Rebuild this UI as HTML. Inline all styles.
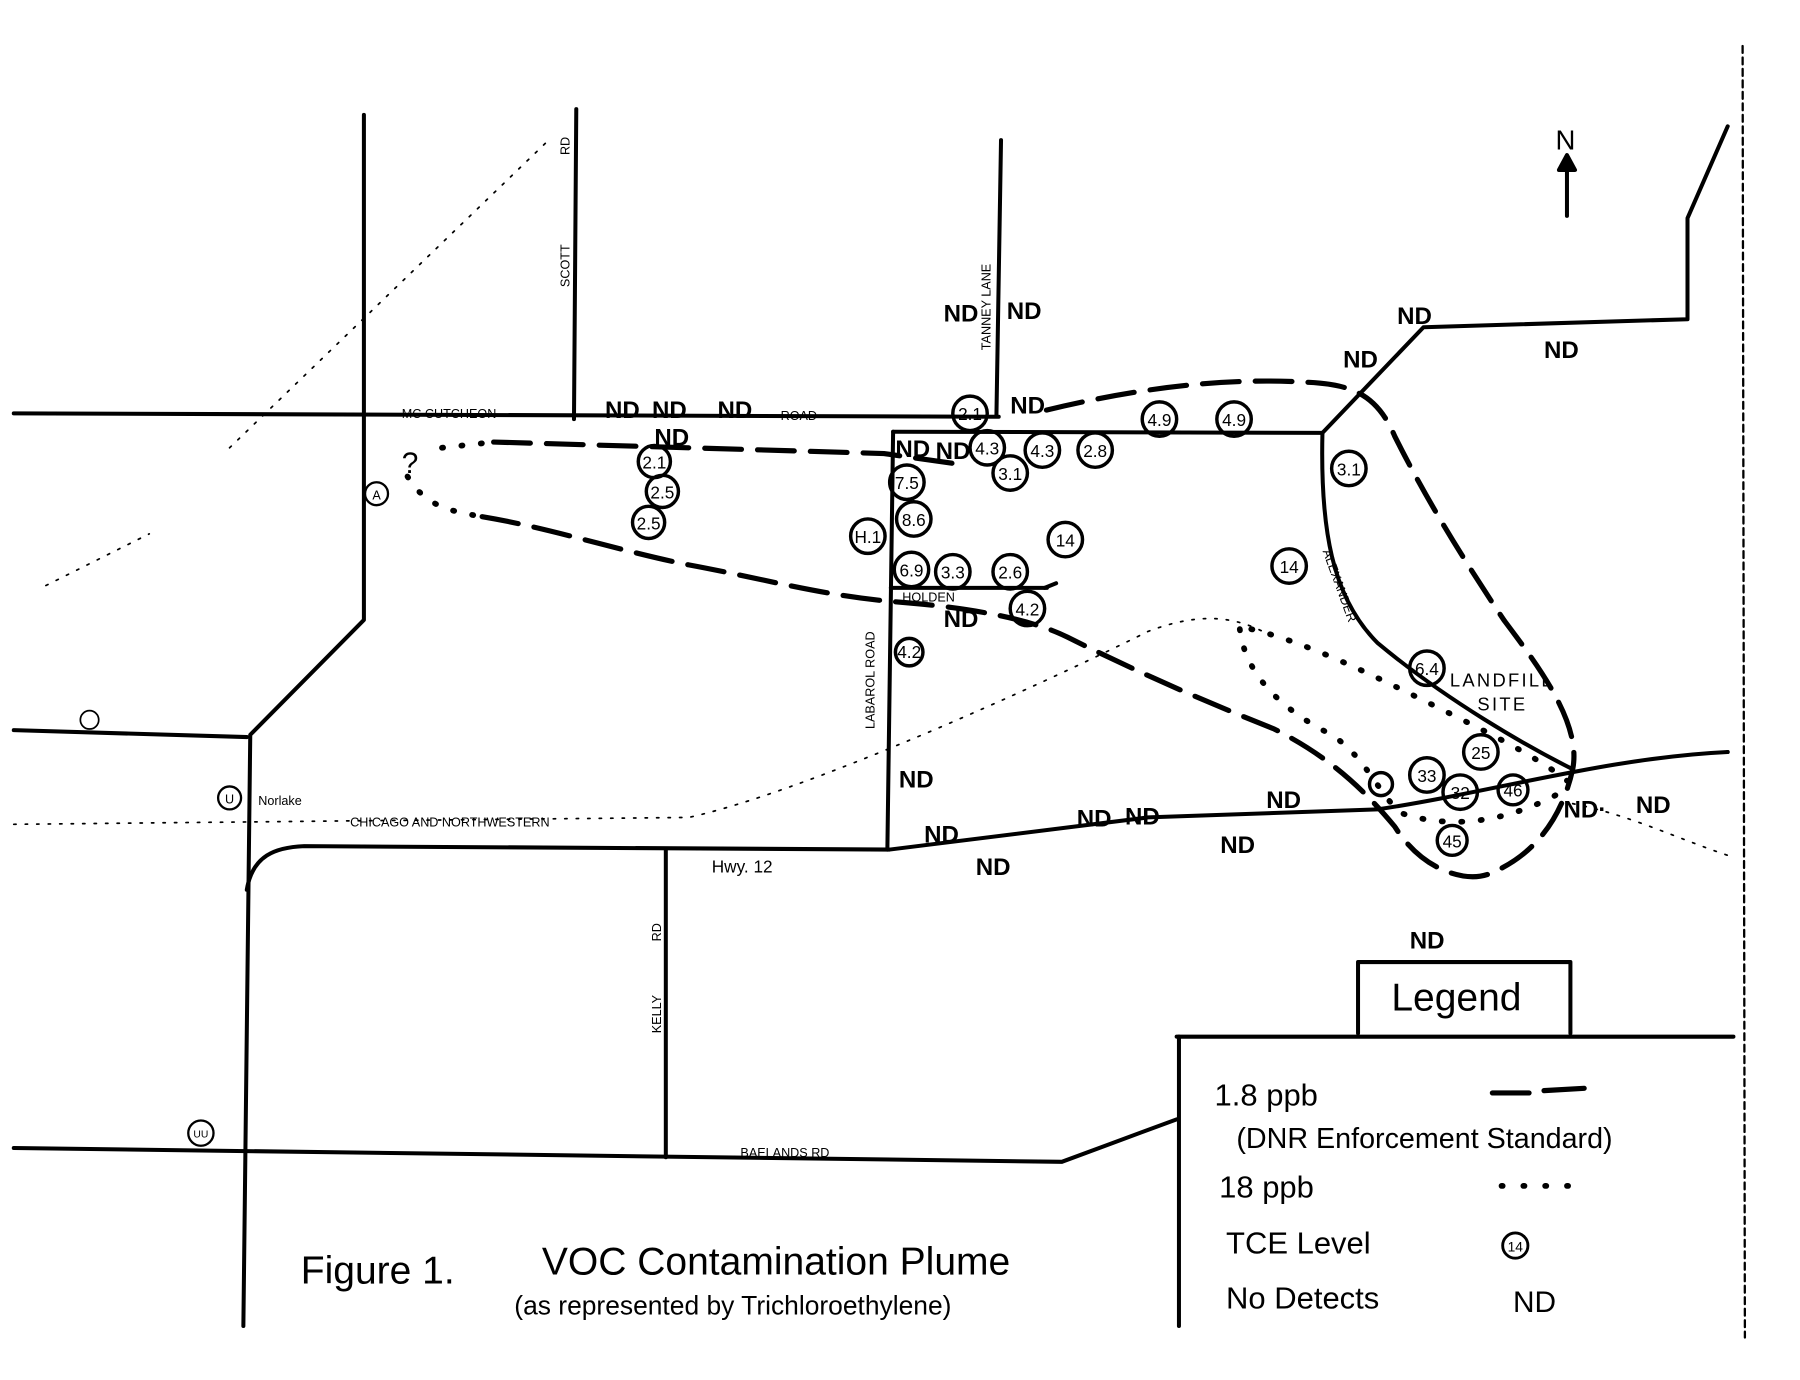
<!DOCTYPE html>
<html><head><meta charset="utf-8"><style>
html,body{margin:0;padding:0;background:#fff;}
svg{display:block;}
text{font-family:"Liberation Sans",sans-serif;fill:#000;}
.nd{font-weight:bold;font-size:21px;}
.c text{font-size:15px;text-anchor:middle;}
</style></head><body>
<svg width="1800" height="1380" viewBox="0 0 1568 1202" xmlns="http://www.w3.org/2000/svg">
<g fill="none" stroke="#000" stroke-width="3.5" stroke-linecap="round" stroke-linejoin="round">
<!-- roads -->
<path d="M12 360 L870 363"/>
<path d="M778 376 L1152 377"/>
<path d="M317 100 L317 540 L218 640 L212 1155"/>
<path d="M502 95 L500 365"/>
<path d="M872 122 L868 362"/>
<path d="M778 376 L773 740"/>
<path d="M776 512 L912 512"/>
<path d="M1152 377 C1150 460 1160 520 1200 560 C1260 610 1330 650 1370 670"/>
<path d="M1152 377 L1240 285 L1470 278 L1470 190 L1505 110"/>
<path d="M215 775 C220 745 240 738 265 737 L775 740 L1000 712 L1200 705 C1300 690 1400 660 1505 655"/>
<path d="M12 636 L215 642"/>
<path d="M580 740 L580 1008"/>
<path d="M12 1000 L925 1012 L1025 975"/>
<path d="M1025 903 L1510 903"/>
<path d="M1027 903 L1027 1155"/>
<path d="M1183 900 L1183 838 L1368 838 L1368 900"/>
<path d="M1365 188 L1365 140"/>
<path d="M1358 148 L1365 135 L1372 148 Z" fill="#000"/>
<!-- plume dashed -->
<g stroke-width="4.5" stroke-dasharray="32 14">
<path d="M430 385 L770 395 L840 405"/>
<path d="M420 450 C480 460 540 480 600 492 C670 505 720 520 790 525 C850 530 900 540 930 555 C1000 590 1060 615 1110 635 C1160 660 1190 690 1215 720 C1240 760 1280 770 1300 760 C1335 745 1360 715 1370 670 C1378 630 1340 580 1310 540 C1270 480 1240 430 1215 380 C1200 345 1180 335 1140 333 C1060 328 980 340 900 360"/>
</g>
<!-- 18 ppb dotted -->
<g stroke-width="5" stroke-dasharray="1 16">
<path d="M1080 548 C1085 590 1120 620 1160 640 C1190 660 1200 690 1220 708 C1260 722 1310 718 1360 690"/>
<path d="M1090 548 C1140 560 1200 590 1260 620 C1300 640 1340 660 1365 680"/>
<path d="M355 415 C370 440 390 445 420 450"/>
<path d="M385 390 L430 385"/>
</g>
<g stroke-width="1.5" stroke-dasharray="2 8">
<path d="M12 718 L600 712 C700 690 900 600 1000 550 C1040 535 1070 535 1100 550"/>
<path d="M1370 700 C1420 710 1460 730 1505 745"/>
<path d="M40 510 L130 465"/>
<path d="M200 390 L480 120"/>
</g>
<path d="M1505 655 L1505 655"/>
<!-- right border -->
<path d="M1518 40 L1520 1165" stroke-width="2" stroke-dasharray="6 4"/>
<!-- legend samples -->
<path d="M1300 952 L1332 952 M1345 950 L1380 948" stroke-width="4.5"/>
<g stroke-width="5" stroke-dasharray="1 18"><path d="M1308 1033 L1370 1033"/></g>
<circle cx="1320" cy="1085" r="11" stroke-width="2.5"/>
<path d="M910 512 L920 508"/>
</g>
<!-- circles -->
<g class="c" fill="none" stroke="#000" stroke-width="3">
<circle cx="845" cy="360" r="15"/><circle cx="1010" cy="365" r="15"/><circle cx="1075" cy="365" r="15"/>
<circle cx="860" cy="390" r="15"/><circle cx="880" cy="412" r="15"/><circle cx="908" cy="392" r="15"/><circle cx="954" cy="392" r="15"/>
<circle cx="570" cy="402" r="14"/><circle cx="577" cy="428" r="14"/><circle cx="565" cy="455" r="14"/>
<circle cx="790" cy="420" r="15"/><circle cx="796" cy="452" r="15"/><circle cx="756" cy="467" r="15"/>
<circle cx="794" cy="496" r="15"/><circle cx="830" cy="498" r="15"/><circle cx="880" cy="498" r="15"/>
<circle cx="928" cy="470" r="15"/><circle cx="895" cy="530" r="15"/><circle cx="792" cy="568" r="12"/>
<circle cx="1123" cy="493" r="15"/><circle cx="1175" cy="408" r="15"/>
<circle cx="1243" cy="582" r="15"/><circle cx="1290" cy="655" r="15"/><circle cx="1243" cy="675" r="15"/>
<circle cx="1272" cy="690" r="15"/><circle cx="1318" cy="688" r="13"/><circle cx="1265" cy="732" r="13"/>
<circle cx="1203" cy="683" r="10"/>
<circle cx="328" cy="430" r="10" stroke-width="2"/><circle cx="78" cy="627" r="8" stroke-width="1.5"/>
<circle cx="200" cy="695" r="10" stroke-width="2"/><circle cx="175" cy="987" r="11" stroke-width="2"/>
</g>
<g class="c">
<text x="845" y="366">2.1</text><text x="1010" y="371">4.9</text><text x="1075" y="371">4.9</text>
<text x="860" y="396">4.3</text><text x="880" y="418">3.1</text><text x="908" y="398">4.3</text><text x="954" y="398">2.8</text>
<text x="570" y="408">2.1</text><text x="577" y="434">2.5</text><text x="565" y="461">2.5</text>
<text x="790" y="426">7.5</text><text x="796" y="458">8.6</text><text x="756" y="473">H.1</text>
<text x="794" y="502">6.9</text><text x="830" y="504">3.3</text><text x="880" y="504">2.6</text>
<text x="928" y="476">14</text><text x="895" y="536">4.2</text><text x="792" y="573">4.2</text>
<text x="1123" y="499">14</text><text x="1175" y="414">3.1</text>
<text x="1243" y="588">6.4</text><text x="1290" y="661">25</text><text x="1243" y="681">33</text>
<text x="1272" y="696">32</text><text x="1318" y="694">46</text><text x="1265" y="738">45</text>
<text x="328" y="435" style="font-size:11px">A</text><text x="200" y="700" style="font-size:11px">U</text><text x="175" y="991" style="font-size:9px">UU</text>
<text x="1320" y="1090" style="font-size:12px">14</text>
</g>
<!-- ND labels -->
<g class="nd">
<text x="822" y="280">ND</text><text x="877" y="278">ND</text><text x="1217" y="282">ND</text><text x="1345" y="312">ND</text>
<text x="1170" y="320">ND</text><text x="880" y="360">ND</text>
<text x="527" y="364">ND</text><text x="568" y="364">ND</text><text x="625" y="364">ND</text><text x="570" y="388">ND</text>
<text x="780" y="398">ND</text><text x="815" y="400">ND</text><text x="822" y="546">ND</text>
<text x="783" y="686">ND</text><text x="805" y="734">ND</text><text x="850" y="762">ND</text>
<text x="938" y="720">ND</text><text x="980" y="718">ND</text><text x="1103" y="704">ND</text><text x="1063" y="743">ND</text>
<text x="1362" y="712">ND·</text><text x="1425" y="708">ND</text><text x="1228" y="826">ND</text>
<text x="1318" y="1143" style="font-size:26px;font-weight:normal">ND</text>
</g>
<!-- small labels -->
<g style="font-size:11px">
<text x="350" y="364">MC CUTCHEON</text><text x="680" y="366">ROAD</text>
<text transform="translate(496,250) rotate(-90)">SCOTT</text><text transform="translate(496,135) rotate(-90)">RD</text>
<text transform="translate(863,305) rotate(-90)">TANNEY LANE</text>
<text transform="translate(762,635) rotate(-90)">LABAROL ROAD</text>
<text x="786" y="524">HOLDEN</text>
<text transform="translate(1152,480) rotate(70)">ALEXANDER</text>
<text transform="translate(576,900) rotate(-90)">KELLY</text><text transform="translate(576,820) rotate(-90)">RD</text>
<text x="645" y="1008">BAELANDS   RD</text>
<text x="225" y="701">Norlake</text>
<text x="305" y="720">CHICAGO    AND    NORTHWESTERN</text>
<text x="620" y="760" style="font-size:15px">Hwy. 12</text>
<text x="1263" y="598" style="font-size:16px;letter-spacing:2px">LANDFILL</text>
<text x="1287" y="619" style="font-size:16px;letter-spacing:2px">SITE</text>
</g>
<text x="350" y="412" style="font-size:26px">?</text>
<text x="1355" y="130" style="font-size:24px">N</text>
<text x="1212" y="880" style="font-size:34px">Legend</text>
<g style="font-size:27px">
<text x="1058" y="963">1.8 ppb</text>
<text x="1077" y="1000" style="font-size:25px">(DNR Enforcement Standard)</text>
<text x="1062" y="1043">18 ppb</text>
<text x="1068" y="1092">TCE  Level</text>
<text x="1068" y="1140">No  Detects</text>
</g>
<text x="262" y="1118" style="font-size:34px">Figure 1.</text>
<text x="472" y="1110" style="font-size:34px">VOC Contamination Plume</text>
<text x="448" y="1145" style="font-size:23px">(as represented by Trichloroethylene)</text>
</svg>
</body></html>
